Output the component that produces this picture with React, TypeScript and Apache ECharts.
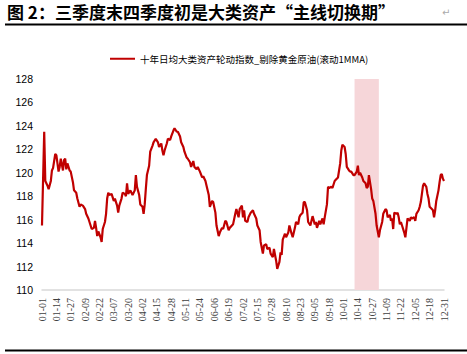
import React, { useEffect, useRef } from "react";
import * as echarts from "echarts";

const TITLE = "图 2：三季度末四季度初是大类资产“主线切换期”";
const SERIES_NAME = "十年日均大类资产轮动指数_剔除黄金原油(滚动1MMA)";

const MONTH_DAYS = [31, 28, 31, 30, 31, 30, 31, 31, 30, 31, 30, 31];
const pad = (n: number) => (n < 10 ? "0" + n : "" + n);
const categories: string[] = [];
MONTH_DAYS.forEach((n, m) => {
  for (let d = 1; d <= n; d++) categories.push(`${pad(m + 1)}-${pad(d)}`);
});

const Y_MIN = 110;
const Y_MAX = 128;
const Y_STEP = 2;

const highlightStart = "10-11";
const highlightEnd = "11-02";

// day-of-year (0 = 01-01) of each reading
const sampleDay = [
  0, 2, 3, 5, 6, 8, 9, 10, 12, 13, 15, 16, 17, 19, 20, 21, 22, 23, 25, 26,
  28, 29, 31, 32, 34, 35, 37, 39, 40, 42, 44, 45, 47, 48, 49, 50, 51, 53, 54, 55,
  57, 58, 59, 60, 61, 63, 65, 66, 68, 69, 70, 72, 73, 75, 76, 77, 78, 80, 81, 82,
  84, 85, 86, 88, 89, 91, 92, 93, 94, 95, 97, 98, 100, 101, 103, 105, 106, 108, 109, 110,
  111, 113, 114, 116, 117, 119, 120, 122, 123, 125, 126, 128, 129, 131, 132, 134, 135, 137, 138, 140,
  141, 143, 145, 146, 148, 149, 151, 152, 154, 155, 157, 158, 160, 161, 163, 164, 166, 167, 169, 170,
  172, 173, 175, 176, 178, 179, 181, 182, 183, 184, 186, 187, 189, 191, 192, 194, 195, 197, 198, 200,
  201, 203, 204, 206, 207, 209, 210, 212, 213, 215, 216, 217, 218, 220, 221, 223, 224, 226, 227, 229,
  230, 232, 233, 234, 236, 237, 238, 240, 241, 243, 244, 245, 247, 248, 249, 251, 252, 254, 255, 256,
  258, 259, 260, 262, 263, 265, 266, 268, 270, 271, 272, 274, 275, 276, 278, 279, 280, 282, 283, 285,
  286, 287, 288, 290, 291, 293, 294, 295, 296, 298, 299, 300, 302, 303, 305, 306, 308, 309, 311, 312,
  313, 315, 316, 317, 318, 319, 321, 322, 323, 324, 325, 326, 328, 329, 330, 331, 333, 334, 335, 337,
  338, 339, 341, 342, 343, 344, 345, 346, 348, 349, 350, 351, 353, 354, 355, 356, 357, 359, 360, 361,
  362, 363, 364,
];

const sampleValue = [
  115.5, 123.5, 119.3, 118.9, 118.6, 119.3, 120.2, 120.4, 121.6, 121.5, 120.1, 120.5, 121.2, 120.2, 121.1, 121.2, 120.3, 120.8, 120.2, 120.1,
  119.2, 118.5, 118.3, 117.8, 117.1, 117.3, 117.2, 116.9, 116.5, 116.1, 115.5, 115.2, 115.3, 115.9, 115.3, 114.6, 115.0, 114.5, 114.1, 115.2,
  115.8, 116.5, 117.8, 118.3, 118.1, 118.2, 117.6, 117.8, 117.2, 116.6, 117.2, 117.8, 118.3, 118.2, 118.0, 119.1, 118.2, 118.5, 118.3, 118.1,
  118.5, 119.8, 118.8, 118.1, 117.3, 117.1, 116.5, 117.3, 118.6, 119.8, 120.6, 121.8, 122.3, 122.6, 122.9, 122.6, 122.2, 122.5, 121.9, 121.5,
  121.9, 122.5, 122.9, 122.8, 123.1, 123.6, 123.8, 123.5, 123.5, 123.1, 122.6, 122.2, 121.8, 121.3, 121.2, 120.9, 120.5, 121.0, 120.5, 120.3,
  120.5, 120.1, 119.6, 119.7, 119.3, 118.9, 118.1, 117.1, 117.6, 117.5, 116.6, 115.5, 114.6, 114.9, 115.3, 115.2, 115.9, 115.8, 115.1, 115.3,
  115.5, 115.6, 116.5, 116.9, 116.2, 116.9, 117.2, 116.2, 116.8, 115.9, 115.8, 116.2, 116.6, 116.8, 116.5, 116.1, 115.5, 115.1, 114.1, 113.1,
  113.8, 113.9, 113.5, 113.6, 113.1, 112.8, 113.5, 112.5, 111.8, 112.4, 113.2, 113.0, 114.3, 114.8, 114.5, 114.9, 115.5, 114.8, 114.5, 115.3,
  115.8, 115.6, 116.2, 116.4, 116.6, 117.5, 117.5, 116.8, 115.8, 115.5, 115.9, 116.3, 115.6, 115.8, 115.3, 115.9, 115.6, 116.1, 115.6, 116.2,
  117.3, 118.8, 118.7, 118.8, 118.7, 119.3, 119.4, 119.6, 120.8, 121.9, 122.4, 122.2, 121.6, 120.5, 120.2, 120.1, 120.1, 119.8, 119.8, 120.1,
  120.6, 119.8, 120.0, 119.6, 119.3, 119.1, 118.7, 118.8, 119.8, 118.6, 117.8, 117.6, 116.5, 115.5, 114.5, 115.1, 115.8, 116.5, 116.9, 116.8,
  116.2, 116.4, 115.9, 116.1, 115.2, 116.6, 116.5, 116.6, 116.2, 115.6, 115.8, 115.5, 114.9, 114.5, 115.3, 116.1, 115.9, 116.2, 116.1, 116.2,
  115.9, 116.5, 116.8, 117.1, 117.5, 118.2, 118.9, 119.1, 118.8, 118.2, 117.8, 117.1, 116.9, 116.8, 116.2, 116.8, 117.6, 118.5, 119.2, 119.8,
  119.9, 119.5, 119.3,
];

export default function App() {
  const ref = useRef<HTMLDivElement>(null);
  useEffect(() => {
    document.body.style.margin = "0";
    if (!ref.current) return;
    const chart = echarts.init(ref.current, undefined, { renderer: "svg" });
    const seriesData = sampleDay.map((d, i) => [categories[d], sampleValue[i]]);
    chart.setOption({
      animation: false,
      backgroundColor: "#ffffff",
      grid: { left: 42, right: 23, top: 79, bottom: 64 },
      legend: {
        left: 105,
        top: 49,
        icon: "rect",
        itemWidth: 25,
        itemHeight: 2,
        itemGap: 10,
        textStyle: { fontSize: 9.5, color: "#000", fontFamily: "Noto Sans CJK SC" },
        data: [SERIES_NAME],
      },
      xAxis: {
        type: "category",
        data: categories,
        boundaryGap: false,
        axisLine: { show: true, lineStyle: { color: "#d9d9d9", width: 1.5 } },
        axisTick: { show: false },
        splitLine: { show: false },
        axisLabel: {
          interval: 12,
          rotate: 90,
          margin: 8,
          fontSize: 10,
          fontFamily: "Liberation Serif",
          color: "#404040",
        },
      },
      yAxis: {
        type: "value",
        min: Y_MIN,
        max: Y_MAX,
        interval: Y_STEP,
        axisLine: { show: false },
        axisTick: { show: false },
        splitLine: { show: false },
        axisLabel: { fontSize: 10.5, color: "#000", fontFamily: "Liberation Sans", margin: 9 },
      },
      series: [
        {
          name: SERIES_NAME,
          type: "line",
          data: seriesData,
          showSymbol: false,
          symbol: "none",
          lineStyle: { color: "#C00000", width: 2.2 },
          itemStyle: { color: "#C00000" },
          z: 3,
          markArea: {
            silent: true,
            itemStyle: { color: "#F6D6D9" },
            data: [[{ xAxis: highlightStart }, { xAxis: highlightEnd }]],
          },
        },
      ],
      graphic: [
        {
          type: "text",
          left: 7,
          top: 3,
          style: {
            text: TITLE,
            fontSize: 17,
            fontWeight: "bold",
            fontFamily: "Noto Sans CJK SC",
            fill: "#000",
          },
        },
        {
          type: "text",
          left: 442,
          top: 7,
          style: { text: "↵", fontSize: 10, fill: "#aaaaaa", fontFamily: "DejaVu Sans" },
        },
        {
          type: "line",
          shape: { x1: 5, y1: 24.5, x2: 467, y2: 24.5 },
          style: { stroke: "#000", lineWidth: 2 },
        },
        {
          type: "line",
          shape: { x1: 5, y1: 350.5, x2: 467, y2: 350.5 },
          style: { stroke: "#000", lineWidth: 2 },
        },
      ],
    });
    return () => chart.dispose();
  }, []);
  return (
    <div
      ref={ref}
      style={{ position: "fixed", left: 0, top: 0, width: 467, height: 354 }}
    />
  );
}
